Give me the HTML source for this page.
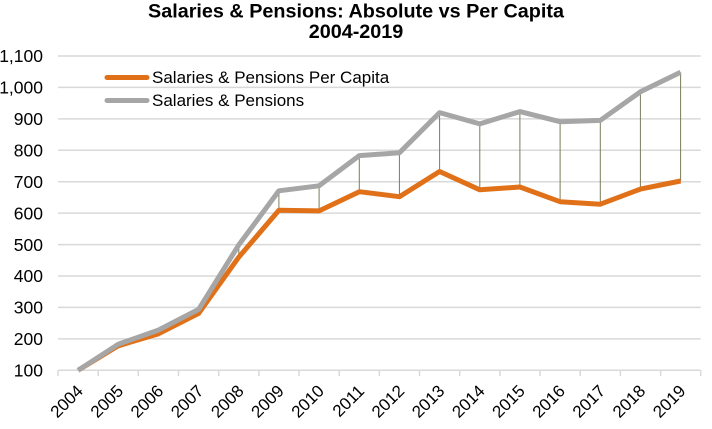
<!DOCTYPE html>
<html>
<head>
<meta charset="utf-8">
<style>
html,body{margin:0;padding:0;background:#fff;}
svg{display:block;}
text{font-family:"Liberation Sans",Arial,sans-serif;fill:#000;}
</style>
</head>
<body>
<svg width="712" height="429" viewBox="0 0 712 429" xmlns="http://www.w3.org/2000/svg">
<rect x="0" y="0" width="712" height="429" fill="#fff"/>
<!-- title -->
<text x="356" y="17.5" text-anchor="middle" font-size="19.8" font-weight="bold">Salaries &amp; Pensions: Absolute vs Per Capita</text>
<text x="356" y="38" text-anchor="middle" font-size="19.8" font-weight="bold">2004-2019</text>
<!-- gridlines -->
<g stroke="#d9d9d9" stroke-width="1.5">
<line x1="58" x2="700.7" y1="56.0" y2="56.0"/>
<line x1="58" x2="700.7" y1="87.4" y2="87.4"/>
<line x1="58" x2="700.7" y1="118.9" y2="118.9"/>
<line x1="58" x2="700.7" y1="150.3" y2="150.3"/>
<line x1="58" x2="700.7" y1="181.7" y2="181.7"/>
<line x1="58" x2="700.7" y1="213.1" y2="213.1"/>
<line x1="58" x2="700.7" y1="244.6" y2="244.6"/>
<line x1="58" x2="700.7" y1="276.0" y2="276.0"/>
<line x1="58" x2="700.7" y1="307.4" y2="307.4"/>
<line x1="58" x2="700.7" y1="338.9" y2="338.9"/>
<line x1="58" x2="700.7" y1="370.3" y2="370.3"/>
</g>
<!-- ticks -->
<g stroke="#d9d9d9" stroke-width="1.5">
<line x1="58.0" x2="58.0" y1="370.3" y2="376"/>
<line x1="98.2" x2="98.2" y1="370.3" y2="376"/>
<line x1="138.3" x2="138.3" y1="370.3" y2="376"/>
<line x1="178.5" x2="178.5" y1="370.3" y2="376"/>
<line x1="218.7" x2="218.7" y1="370.3" y2="376"/>
<line x1="258.9" x2="258.9" y1="370.3" y2="376"/>
<line x1="299.0" x2="299.0" y1="370.3" y2="376"/>
<line x1="339.2" x2="339.2" y1="370.3" y2="376"/>
<line x1="379.4" x2="379.4" y1="370.3" y2="376"/>
<line x1="419.5" x2="419.5" y1="370.3" y2="376"/>
<line x1="459.7" x2="459.7" y1="370.3" y2="376"/>
<line x1="499.9" x2="499.9" y1="370.3" y2="376"/>
<line x1="540.0" x2="540.0" y1="370.3" y2="376"/>
<line x1="580.2" x2="580.2" y1="370.3" y2="376"/>
<line x1="620.4" x2="620.4" y1="370.3" y2="376"/>
<line x1="660.6" x2="660.6" y1="370.3" y2="376"/>
<line x1="700.7" x2="700.7" y1="370.3" y2="376"/>
</g>
<!-- y labels -->
<g font-size="17.5" text-anchor="end">
<text x="43" y="62.2">1,100</text>
<text x="43" y="93.6">1,000</text>
<text x="43" y="125.1">900</text>
<text x="43" y="156.5">800</text>
<text x="43" y="187.9">700</text>
<text x="43" y="219.3">600</text>
<text x="43" y="250.8">500</text>
<text x="43" y="282.2">400</text>
<text x="43" y="313.6">300</text>
<text x="43" y="345.1">200</text>
<text x="43" y="376.5">100</text>
</g>
<!-- x labels -->
<g font-size="17" text-anchor="end">
<text transform="translate(84.1,392) rotate(-45)">2004</text>
<text transform="translate(124.3,392) rotate(-45)">2005</text>
<text transform="translate(164.4,392) rotate(-45)">2006</text>
<text transform="translate(204.6,392) rotate(-45)">2007</text>
<text transform="translate(244.8,392) rotate(-45)">2008</text>
<text transform="translate(284.9,392) rotate(-45)">2009</text>
<text transform="translate(325.1,392) rotate(-45)">2010</text>
<text transform="translate(365.3,392) rotate(-45)">2011</text>
<text transform="translate(405.4,392) rotate(-45)">2012</text>
<text transform="translate(445.6,392) rotate(-45)">2013</text>
<text transform="translate(485.8,392) rotate(-45)">2014</text>
<text transform="translate(525.9,392) rotate(-45)">2015</text>
<text transform="translate(566.1,392) rotate(-45)">2016</text>
<text transform="translate(606.3,392) rotate(-45)">2017</text>
<text transform="translate(646.4,392) rotate(-45)">2018</text>
<text transform="translate(686.6,392) rotate(-45)">2019</text>
</g>
<!-- drop lines -->
<g stroke="#7b7b5a" stroke-width="1">
<line x1="118.3" x2="118.3" y1="344.2" y2="345.8"/>
<line x1="158.4" x2="158.4" y1="330.1" y2="333.8"/>
<line x1="198.6" x2="198.6" y1="309.4" y2="313.4"/>
<line x1="238.8" x2="238.8" y1="244.9" y2="257.1"/>
<line x1="278.9" x2="278.9" y1="190.8" y2="210.3"/>
<line x1="319.1" x2="319.1" y1="185.8" y2="210.9"/>
<line x1="359.3" x2="359.3" y1="155.6" y2="191.7"/>
<line x1="399.4" x2="399.4" y1="152.8" y2="196.7"/>
<line x1="439.6" x2="439.6" y1="112.6" y2="171.5"/>
<line x1="479.8" x2="479.8" y1="123.9" y2="189.8"/>
<line x1="519.9" x2="519.9" y1="111.6" y2="187.0"/>
<line x1="560.1" x2="560.1" y1="121.7" y2="201.7"/>
<line x1="600.3" x2="600.3" y1="120.4" y2="204.2"/>
<line x1="640.4" x2="640.4" y1="91.8" y2="189.1"/>
<line x1="680.6" x2="680.6" y1="72.3" y2="181.0"/>
</g>
<!-- orange series -->
<polyline fill="none" stroke="#e07119" stroke-width="5" stroke-linejoin="round" points="78.1,370.3 118.3,345.8 158.4,333.8 198.6,313.4 238.8,257.1 278.9,210.3 319.1,210.9 359.3,191.7 399.4,196.7 439.6,171.5 479.8,189.8 519.9,187.0 560.1,201.7 600.3,204.2 640.4,189.1 680.6,181.0"/>
<!-- gray series -->
<polyline fill="none" stroke="#a6a6a6" stroke-width="5" stroke-linejoin="round" points="78.1,370.3 118.3,344.2 158.4,330.1 198.6,309.4 238.8,244.9 278.9,190.8 319.1,185.8 359.3,155.6 399.4,152.8 439.6,112.6 479.8,123.9 519.9,111.6 560.1,121.7 600.3,120.4 640.4,91.8 680.6,72.3"/>
<!-- legend -->
<line x1="107" x2="147" y1="77.5" y2="77.5" stroke="#e07119" stroke-width="5" stroke-linecap="round"/>
<text x="152" y="83" font-size="17">Salaries &amp; Pensions Per Capita</text>
<line x1="107" x2="147" y1="100.5" y2="100.5" stroke="#a6a6a6" stroke-width="5" stroke-linecap="round"/>
<text x="152" y="106" font-size="17">Salaries &amp; Pensions</text>
</svg>
</body>
</html>
